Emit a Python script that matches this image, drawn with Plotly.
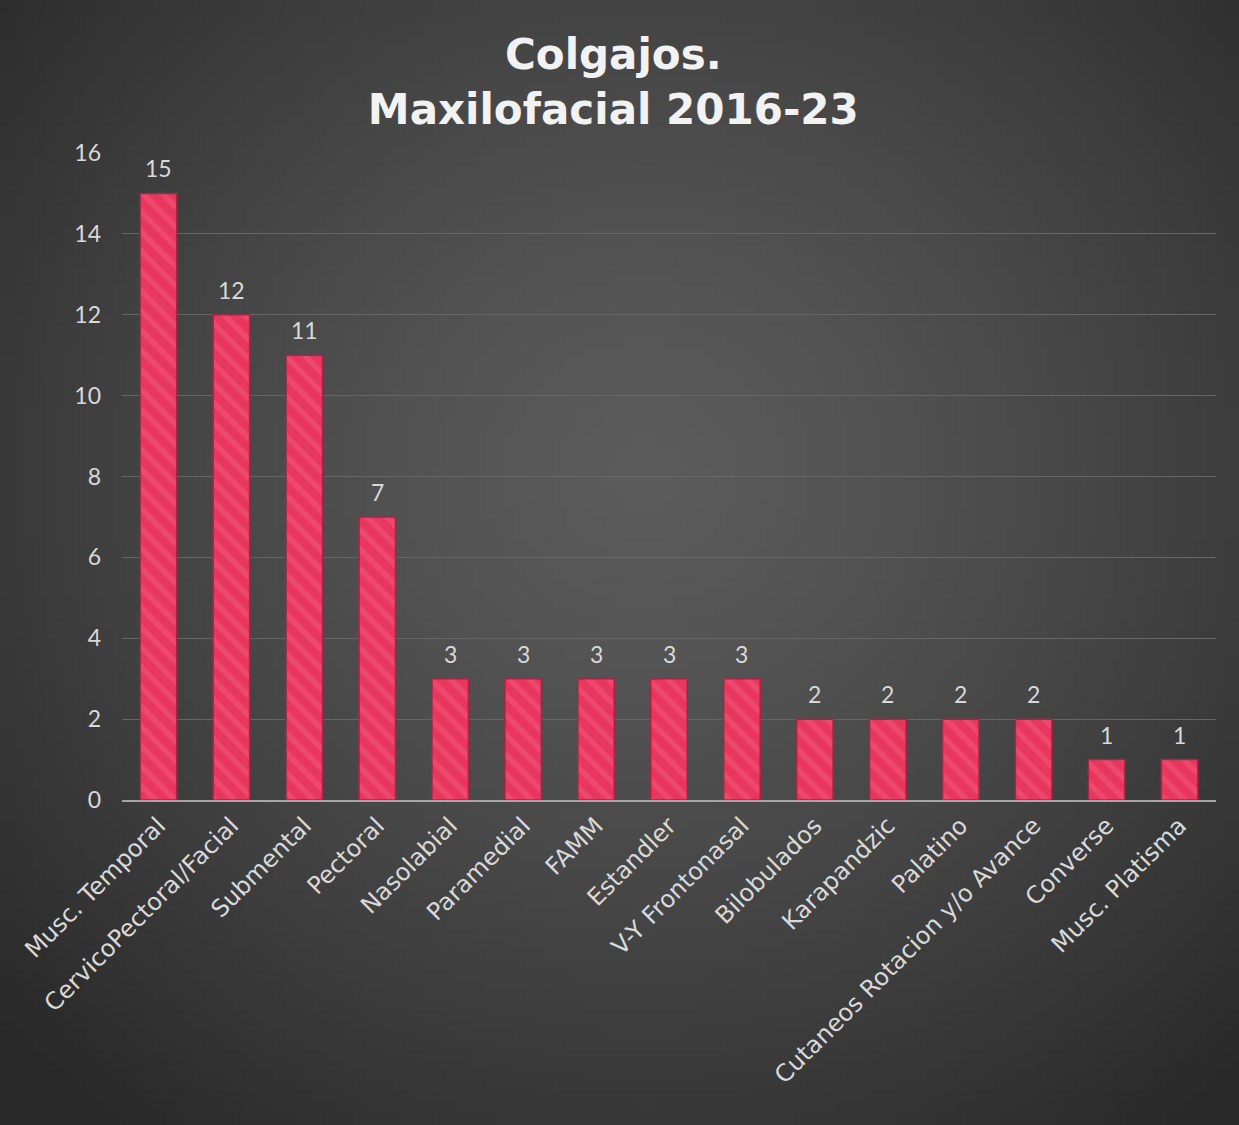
import base64, struct, zlib, math
import plotly.graph_objects as go

categories = ["Musc. Temporal", "CervicoPectoral/Facial", "Submental", "Pectoral",
              "Nasolabial", "Paramedial", "FAMM", "Estandler", "V-Y Frontonasal",
              "Bilobulados", "Karapandzic", "Palatino", "Cutaneos Rotacion y/o Avance",
              "Converse", "Musc. Platisma"]
values = [15, 12, 11, 7, 3, 3, 3, 3, 3, 2, 2, 2, 2, 1, 1]
y_ticks = [0, 2, 4, 6, 8, 10, 12, 14, 16]

W, H = 1239, 1125
ML, MR, MT, MB = 122, 23, 153, 325

# radial gradient background image (pure python PNG)
def gradient_png(w=124, h=112):
    rows = []
    cx, cy = 0.52, 0.42
    for j in range(h):
        row = bytearray([0])
        for i in range(w):
            dx = (i / (w - 1) - cx) * 1.0
            dy = (j / (h - 1) - cy) * 0.95
            d = min(1.0, math.sqrt(dx * dx + dy * dy) / 0.72)
            v = int(92 - (92 - 40) * d ** 1.3)
            row += bytes([v, v, v])
        rows.append(bytes(row))
    raw = b"".join(rows)
    def chunk(t, data):
        c = struct.pack(">I", len(data)) + t + data
        return c + struct.pack(">I", zlib.crc32(t + data) & 0xffffffff)
    png = b"\x89PNG\r\n\x1a\n" + chunk(b"IHDR", struct.pack(">IIBBBBB", w, h, 8, 2, 0, 0, 0)) \
        + chunk(b"IDAT", zlib.compress(raw, 9)) + chunk(b"IEND", b"")
    return "data:image/png;base64," + base64.b64encode(png).decode()

pw, ph = W - ML - MR, H - MT - MB

FONT = "Lato"
WIDE = "DejaVu Sans"

fig = go.Figure(go.Bar(
    x=categories, y=values,
    width=0.5,
    marker=dict(color="#E8375E",
                line=dict(color="#A82444", width=1.5),
                pattern=dict(shape="\\", fgcolor="#F45A7C", bgcolor="#E8375E",
                             size=14, solidity=0.4)),
))

annotations = [dict(x=c, y=v, text=str(v), showarrow=False, xref="x", yref="y",
                    yanchor="bottom", yshift=9,
                    font=dict(color="#D9D9D9", size=23, family=FONT))
               for c, v in zip(categories, values)]

fig.update_layout(
    width=W, height=H,
    margin=dict(l=ML, r=MR, t=MT, b=MB),
    paper_bgcolor="#404040", plot_bgcolor="rgba(0,0,0,0)",
    title=dict(text="<b>Colgajos.<br>Maxilofacial 2016-23</b>",
               x=0.495, xref="container", xanchor="center",
               y=1 - 69 / H, yref="container", yanchor="middle",
               font=dict(family=WIDE, size=42, color="#F2F2F2")),
    showlegend=False,
    bargap=0.5,
    annotations=annotations,
    images=[dict(source=gradient_png(), xref="paper", yref="paper",
                 x=-ML / pw, y=1 + MT / ph, sizex=W / pw, sizey=H / ph,
                 sizing="stretch", layer="below", xanchor="left", yanchor="top")],
)
fig.update_xaxes(tickangle=-45, tickfont=dict(family=WIDE, size=24, color="#D9D9D9"),
                 showline=True, linecolor="#A6A6A6", linewidth=2, ticks="",
                 showgrid=False)
fig.update_yaxes(range=[0, 16], tickvals=y_ticks, showgrid=True, gridcolor="#666666",
                 gridwidth=1, zeroline=False, ticks="", ticklabelstandoff=20,
                 tickfont=dict(family=FONT, size=23, color="#D9D9D9"))

fig.write_html("out.html")
